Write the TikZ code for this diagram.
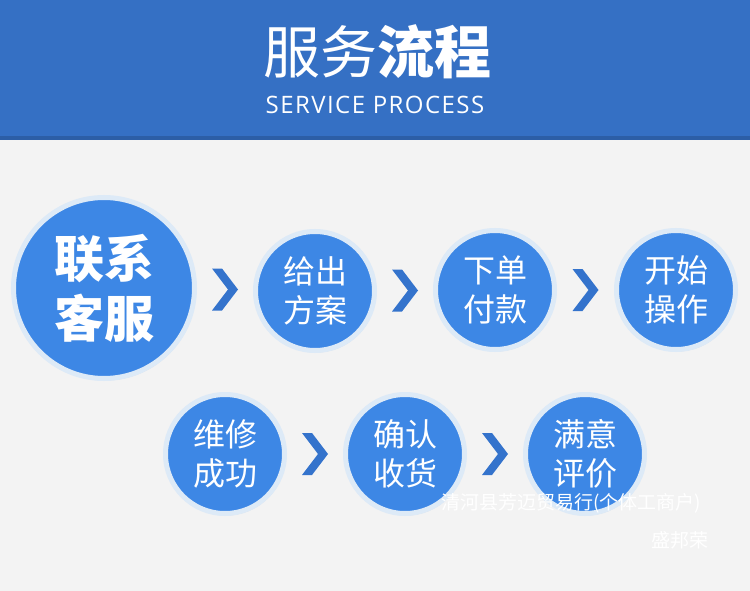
\documentclass[tikz,border=0pt]{standalone}
\usepackage{fontspec}
\setmainfont{Noto Sans}
\newfontfamily\cjk{Noto Sans CJK SC}
\newfontfamily\latin{Open Sans}
\usetikzlibrary{calc,shadows}

\definecolor{bggray}{HTML}{F3F3F3}
\definecolor{headblue}{HTML}{3570C4}
\definecolor{headdark}{HTML}{2C5EA6}
\definecolor{ballblue}{HTML}{3D87E5}
\definecolor{rimblue}{HTML}{DDEAF7}
\definecolor{chevblue}{HTML}{3473CC}

\begin{document}
\begin{tikzpicture}[x=1pt, y=-1pt,
    ball/.style = {circle, draw=rimblue, line width=5pt, fill=ballblue, text=white, align=center, inner sep=0pt, minimum size=119pt, drop shadow={opacity=0.25, shadow xshift=1pt, shadow yshift=-2pt}, font=\cjk\fontsize{32}{39}\selectfont},
    big/.style = {ball, minimum size=181pt, font=\cjk\bfseries\fontsize{50}{60}\selectfont},
    wm/.style = {text=white, font=\cjk\fontsize{19}{23}\selectfont},
    chev/.pic = {\fill[chevblue] (-13,-21) -- (-3,-21) -- (13,0) -- (-3,21) -- (-13,21) -- (3,0) -- cycle;}]
    \useasboundingbox (0,0) rectangle (750,591);
    \fill[bggray] (0,0) rectangle (750,591);
    \fill[headblue] (0,0) rectangle (750,138);
    \fill[headdark] (0,136) rectangle (750,140);

    \node[text=white, font=\cjk\fontsize{57}{64}\selectfont] (title) at (377,52) {服务{\bfseries 流程}};
    \node[text=white, font=\latin\addfontfeatures{LetterSpace=6}\fontsize{24}{28}\selectfont] (sub) at (375,105) {SERVICE PROCESS};

    \node[big] (1) at (104,288) {联系\\客服};
    \node[ball] (2) at (315,291) {给出\\方案};
    \node[ball] (3) at (495,290) {下单\\付款};
    \node[ball] (4) at (676,290) {开始\\操作};
    \node[ball] (5) at (225,454) {维修\\成功};
    \node[ball] (6) at (405,454) {确认\\收货};
    \node[ball] (7) at (585,454) {满意\\评价};

    \foreach \a/\b in {1/2,2/3,3/4,5/6,6/7}
        \path ($(\a.east)!0.5!(\b.west)$) pic {chev};

    \node[wm] (wm1) at (571,503) {清河县芳迈贸易行(个体工商户)};
    \node[wm] (wm2) at (680,540) {盛邦荣};
\end{tikzpicture}
\end{document}
